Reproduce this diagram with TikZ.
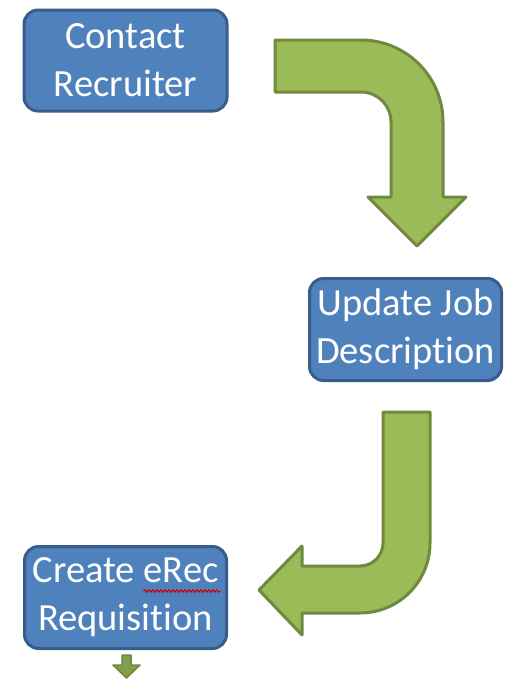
\documentclass[tikz,border=0pt]{standalone}
\usepackage{fontspec}
\setmainfont[Ligatures=NoCommon]{Carlito}
\usetikzlibrary{decorations.pathmorphing}
\definecolor{boxfill}{HTML}{4F81BD}
\definecolor{boxline}{HTML}{385D8A}
\definecolor{arrfill}{HTML}{9BBB59}
\definecolor{arrline}{HTML}{71893F}
\tikzset{
  stepbox/.style={rectangle, rounded corners=14pt, draw=boxline, line width=3pt,
    fill=boxfill, text=white, align=center, inner sep=0pt,
    font=\fontsize{38.5}{48}\selectfont},
  blockarrow/.style={draw=arrline, fill=arrfill, line width=3pt, line join=round}
}
\begin{document}
\begin{tikzpicture}[x=1pt,y=-1pt]
\useasboundingbox (0,0) rectangle (504,680);
% boxes
\node[stepbox, minimum width=203pt, minimum height=101pt] (b1) at (125.5,60.5) {Contact\\Recruiter};
\node[stepbox, minimum width=192pt, minimum height=102pt] (b2) at (405.5,329.5) {Update Job\\Description};
\node[stepbox, minimum width=202pt, minimum height=102pt] (b3) at (125.5,597.5) {Create eRec\\Requisition};
% spell-check squiggle under eRec
\draw[red!85!black, line width=1.1pt, decorate, decoration={snake, amplitude=1.2pt, segment length=4pt}]
  ([xshift=18pt,yshift=6.5pt]b3.center) -- ([xshift=95pt,yshift=6.5pt]b3.center);
% arrow 1
\path[blockarrow] (275,40) -- (361,40) .. controls (406.3,40) and (443,76.7) .. (443,122)
  -- (443,197) -- (466,197) -- (417,246) -- (368,197) -- (391,197) -- (391,122)
  .. controls (391,105.4) and (377.6,92) .. (361,92) -- (275,92) -- cycle;
% arrow 2
\path[blockarrow] (383,412) -- (430,412) -- (430,543) .. controls (430,581.7) and (398.7,613) .. (360,613)
  -- (302,613) -- (302,635) -- (259,590) -- (302,546) -- (302,566) -- (360,566)
  .. controls (372.7,566) and (383,555.7) .. (383,543) -- cycle;
% arrow 3
\path[blockarrow, line width=1.5pt, fill=arrfill!45!arrline] (122,655) -- (131,655) -- (131,665) -- (140,665) -- (126.5,678)
  -- (113,665) -- (122,665) -- cycle;
\end{tikzpicture}
\end{document}
